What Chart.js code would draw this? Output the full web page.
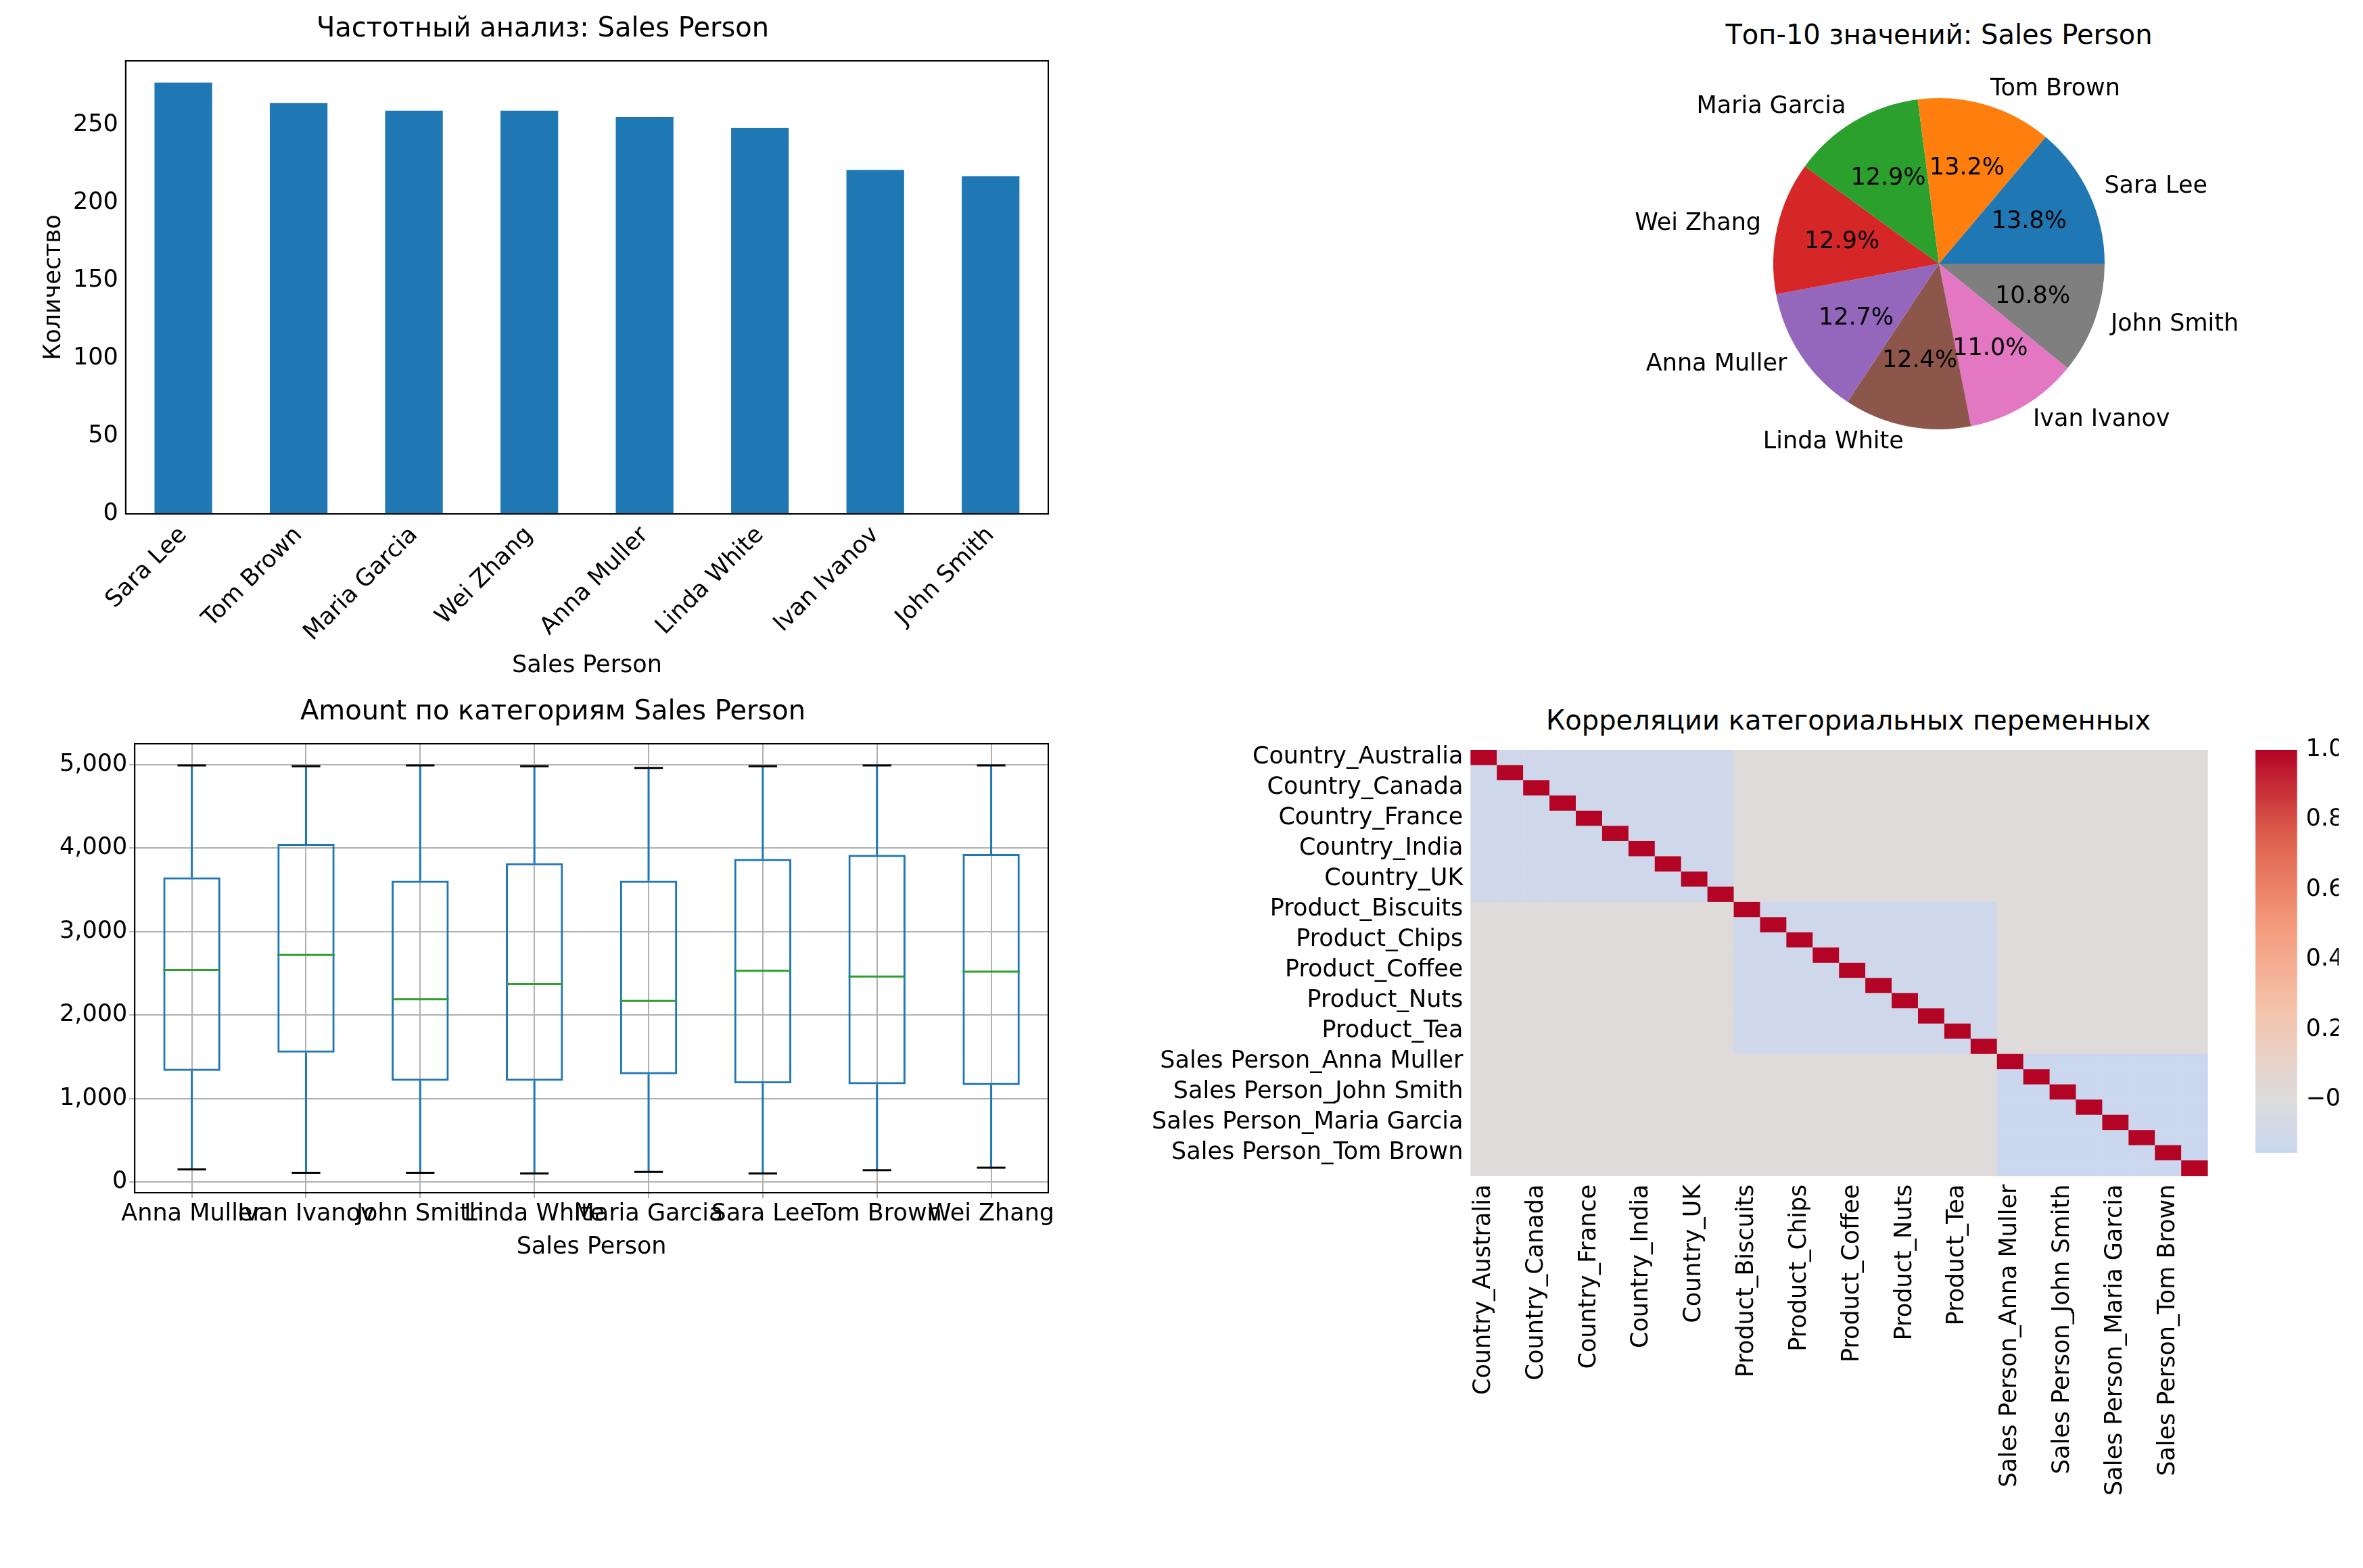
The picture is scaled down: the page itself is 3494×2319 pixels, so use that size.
<!DOCTYPE html>
<html><head><meta charset="utf-8">
<script src="https://cdn.jsdelivr.net/npm/chart.js@4.4.1/dist/chart.umd.min.js"></script>
<style>
body{margin:0;background:#fff;width:3494px;height:2319px;position:relative;overflow:hidden;font-family:"DejaVu Sans",sans-serif}
.box{position:absolute}
.ttl{position:absolute;font-size:40px;color:#000;text-align:center;white-space:nowrap}
</style></head><body>
<div class="box" style="left:0;top:10px;width:1580px;height:1000px"><canvas id="bar"></canvas></div>
<div class="ttl" style="left:2367px;width:1000px;top:28px">Топ-10 значений: Sales Person</div>
<div class="box" style="left:2367px;top:90px;width:1000px;height:600px"><canvas id="pie"></canvas></div>
<div class="box" style="left:0;top:1020px;width:1580px;height:1000px"><canvas id="boxp"></canvas></div>
<div class="ttl" style="left:2195px;width:1076px;top:1042px">Корреляции категориальных переменных</div>
<div class="box" style="left:1700px;top:1085px;width:1590px;height:1230px"><canvas id="heat"></canvas></div>
<div class="box" style="left:3293px;top:1085px;width:170px;height:644px"><canvas id="cbar"></canvas></div>
<script>
const persons = ['Sara Lee','Tom Brown','Maria Garcia','Wei Zhang','Anna Muller','Linda White','Ivan Ivanov','John Smith'];
const counts = [277, 264, 259, 259, 255, 248, 221, 217];
const pieColors = ['#1f77b4','#ff7f0e','#2ca02c','#d62728','#9467bd','#8c564b','#e377c2','#7f7f7f'];

const boxNames = ['Anna Muller','Ivan Ivanov','John Smith','Linda White','Maria Garcia','Sara Lee','Tom Brown','Wei Zhang'];
const boxMin = [150, 110, 110, 100, 120, 100, 140, 170];
const boxQ1 = [1330, 1550, 1210, 1210, 1290, 1180, 1170, 1160];
const boxMed = [2540, 2720, 2190, 2370, 2170, 2530, 2460, 2520];
const boxQ3 = [3650, 4050, 3610, 3820, 3610, 3870, 3920, 3930];
const boxMax = [4990, 4980, 4990, 4980, 4960, 4980, 4990, 4990];

const countries = ['Australia','Brazil','Canada','China','France','Germany','India','Japan','UK','USA'];
const products = ['Biscuits','Cakes','Chips','Chocolate','Coffee','Juice','Nuts','Soda','Tea','Water'];
const heatPersons = ['Anna Muller','Ivan Ivanov','John Smith','Linda White','Maria Garcia','Sara Lee','Tom Brown','Wei Zhang'];
const withinCorr = [-0.11, -0.11, -0.14]; // same-variable pairs
const crossCorr = 0.01;
const cbTicks = [1.0, 0.8, 0.6, 0.4, 0.2, 0.0];
const barTicks = [0, 50, 100, 150, 200, 250];
const boxTicks = [0, 1000, 2000, 3000, 4000, 5000];

const F = '"DejaVu Sans", sans-serif';
Chart.defaults.font.family = F;
Chart.defaults.font.size = 35;
Chart.defaults.color = '#000';
Chart.defaults.animation = false;
Chart.defaults.devicePixelRatio = 1;
Chart.defaults.maintainAspectRatio = false;
Chart.defaults.plugins.legend.display = false;
Chart.defaults.plugins.tooltip.enabled = false;

const frame = {
  id: 'frame',
  afterDraw(c) {
    const a = c.chartArea, x = c.ctx;
    x.save(); x.strokeStyle = '#000'; x.lineWidth = 2;
    x.strokeRect(a.left, a.top, a.right - a.left, a.bottom - a.top);
    x.restore();
  }
};
const tickStyle = {color: '#000', font: {size: 35}};

// bar chart
new Chart(document.getElementById('bar'), {
  type: 'bar',
  data: {labels: persons, datasets: [{data: counts, backgroundColor: '#1f77b4', barPercentage: 0.5, categoryPercentage: 1}]},
  options: {
    layout: {padding: {left: 55, right: 30}},
    plugins: {title: {display: true, text: 'Частотный анализ: Sales Person', font: {size: 40, weight: 'normal'}, padding: {top: 10, bottom: 22}}},
    scales: {
      x: {grid: {display: false}, border: {color: '#000', width: 2},
          ticks: {...tickStyle, minRotation: 45, maxRotation: 45},
          title: {display: true, text: 'Sales Person', font: {size: 35}}},
      y: {min: 0, max: 291, grid: {display: false}, border: {color: '#000', width: 2},
          afterBuildTicks: s => { s.ticks = barTicks.map(v => ({value: v})); },
          ticks: tickStyle,
          title: {display: true, text: 'Количество', font: {size: 35}}}
    }
  },
  plugins: [frame]
});

// pie chart (reverse order + clockwise to mimic counter-clockwise from 3 o'clock)
const total = counts.reduce((s, v) => s + v, 0);
const pieLabels = persons.slice().reverse();
const pieData = counts.slice().reverse();
const pieCols = pieColors.slice().reverse();
const pieText = {
  id: 'pieText',
  afterDatasetsDraw(c) {
    const x = c.ctx;
    x.save(); x.font = '35px ' + F; x.fillStyle = '#000'; x.textBaseline = 'middle';
    c.getDatasetMeta(0).data.forEach((arc, i) => {
      const m = (arc.startAngle + arc.endAngle) / 2, r = arc.outerRadius;
      const cx = Math.cos(m), cy = Math.sin(m);
      x.textAlign = cx >= 0 ? 'left' : 'right';
      x.fillText(pieLabels[i], arc.x + cx * r * 1.1, arc.y + cy * r * 1.1);
      x.textAlign = 'center';
      const p = Math.round(pieData[i] / total * 1000 - 1e-6) / 10;
      x.fillText(p.toFixed(1) + '%', arc.x + cx * r * 0.6, arc.y + cy * r * 0.6);
    });
    x.restore();
  }
};
new Chart(document.getElementById('pie'), {
  type: 'pie',
  data: {labels: pieLabels, datasets: [{data: pieData, backgroundColor: pieCols, borderWidth: 0}]},
  options: {rotation: 90, layout: {padding: {top: 55, bottom: 55, left: 255, right: 255}}},
  plugins: [pieText]
});

// box plot: floating bars for boxes, whiskers/median via plugin
const whiskers = {
  id: 'whiskers',
  afterDatasetsDraw(c) {
    const x = c.ctx, ys = c.scales.y;
    x.save();
    c.getDatasetMeta(0).data.forEach((b, i) => {
      const cx = b.x, hw = b.width / 2, cap = b.width / 4;
      x.strokeStyle = '#1f77b4'; x.lineWidth = 3;
      x.beginPath();
      x.moveTo(cx, ys.getPixelForValue(boxQ3[i])); x.lineTo(cx, ys.getPixelForValue(boxMax[i]));
      x.moveTo(cx, ys.getPixelForValue(boxQ1[i])); x.lineTo(cx, ys.getPixelForValue(boxMin[i]));
      x.stroke();
      x.strokeStyle = '#000';
      x.beginPath();
      [boxMax[i], boxMin[i]].forEach(v => { const y = ys.getPixelForValue(v); x.moveTo(cx - cap, y); x.lineTo(cx + cap, y); });
      x.stroke();
      x.strokeStyle = '#2ca02c';
      x.beginPath();
      const ym = ys.getPixelForValue(boxMed[i]); x.moveTo(cx - hw, ym); x.lineTo(cx + hw, ym);
      x.stroke();
    });
    x.restore();
  }
};
new Chart(document.getElementById('boxp'), {
  type: 'bar',
  data: {labels: boxNames, datasets: [{data: boxNames.map((n, i) => [boxQ1[i], boxQ3[i]]),
    backgroundColor: 'rgba(0,0,0,0)', borderColor: '#1f77b4', borderWidth: 3, borderSkipped: false,
    barPercentage: 0.5, categoryPercentage: 1}]},
  options: {
    layout: {padding: {left: 85, right: 30, bottom: 150}},
    plugins: {title: {display: true, text: 'Amount по категориям Sales Person', font: {size: 40, weight: 'normal'}, padding: {top: 10, bottom: 22}}},
    scales: {
      x: {grid: {color: '#b0b0b0', lineWidth: 2, offset: false}, border: {color: '#000', width: 2},
          ticks: {...tickStyle, autoSkip: false, maxRotation: 0, minRotation: 0},
          title: {display: true, text: 'Sales Person', font: {size: 35}}},
      y: {min: -130, max: 5250, grid: {color: '#b0b0b0', lineWidth: 2}, border: {color: '#000', width: 2},
          ticks: tickStyle,
          afterBuildTicks: s => { s.ticks = boxTicks.map(v => ({value: v})); }}
    }
  },
  plugins: [frame, whiskers]
});

// heatmap
const groups = [countries.map(n => 'Country_' + n), products.map(n => 'Product_' + n), heatPersons.map(n => 'Sales Person_' + n)];
const names = [].concat(...groups);
const groupOf = [].concat(...groups.map((g, gi) => g.map(() => gi)));
function corr(i, j) {
  if (i === j) return 1;
  return groupOf[i] === groupOf[j] ? withinCorr[groupOf[i]] : crossCorr;
}
const stops = [[-0.153, [201, 215, 240]], [0, [221, 220, 220]], [0.25, [244, 196, 173]], [0.5, [244, 154, 123]], [0.75, [222, 96, 77]], [1, [180, 4, 38]]];
function color(v) {
  for (let k = 1; k < stops.length; k++) {
    if (v <= stops[k][0]) {
      const [a, ca] = stops[k - 1], [b, cb] = stops[k];
      const t = Math.max(0, (v - a) / (b - a));
      return 'rgb(' + ca.map((c, q) => Math.round(c + (cb[q] - c) * t)).join(',') + ')';
    }
  }
  return 'rgb(180,4,38)';
}
const cells = {
  id: 'cells',
  beforeDatasetsDraw(c) {
    const x = c.ctx, xs = c.scales.x, ys = c.scales.y;
    const w = xs.getPixelForTick(1) - xs.getPixelForTick(0);
    const h = ys.getPixelForTick(1) - ys.getPixelForTick(0);
    for (let i = 0; i < names.length; i++)
      for (let j = 0; j < names.length; j++) {
        x.fillStyle = color(corr(i, j));
        x.fillRect(xs.getPixelForTick(j) - w / 2, ys.getPixelForTick(i) - h / 2, w + 0.5, h + 0.5);
      }
  }
};
const everyOther = function(v, i) { return i % 2 === 0 ? this.getLabelForValue(v) : ''; };
new Chart(document.getElementById('heat'), {
  type: 'bar',
  data: {labels: names, datasets: [{data: names.map(() => null)}]},
  options: {
    layout: {padding: {top: 18, right: 20, bottom: 100}},
    scales: {
      x: {offset: true, grid: {display: false, tickLength: 10}, border: {display: false},
          ticks: {...tickStyle, autoSkip: false, minRotation: 90, maxRotation: 90, callback: everyOther}},
      y: {type: 'category', labels: names, offset: true, grid: {display: false}, border: {display: false},
          ticks: {...tickStyle, autoSkip: false, callback: everyOther}}
    }
  },
  plugins: [cells]
});

// colorbar
const cbGrad = {
  id: 'cbGrad',
  beforeDatasetsDraw(c) {
    const a = c.chartArea, x = c.ctx, ys = c.scales.y;
    for (let y = Math.floor(a.top); y < a.bottom; y++) {
      x.fillStyle = color(ys.getValueForPixel(y + 0.5));
      x.fillRect(a.left, y, a.right - a.left, 1);
    }
  }
};
new Chart(document.getElementById('cbar'), {
  type: 'bar',
  data: {labels: [''], datasets: [{data: [null]}]},
  options: {
    layout: {padding: {left: 42, top: 18, right: 5}},
    scales: {
      x: {display: false},
      y: {position: 'right', min: -0.153, max: 1, grid: {display: false, tickLength: 10}, border: {display: false},
          afterBuildTicks: s => { s.ticks = cbTicks.map(v => ({value: v})); },
          ticks: {...tickStyle, callback: v => v === 0 ? '−0.0' : v.toFixed(1)}}
    }
  },
  plugins: [cbGrad]
});
</script>
</body></html>
